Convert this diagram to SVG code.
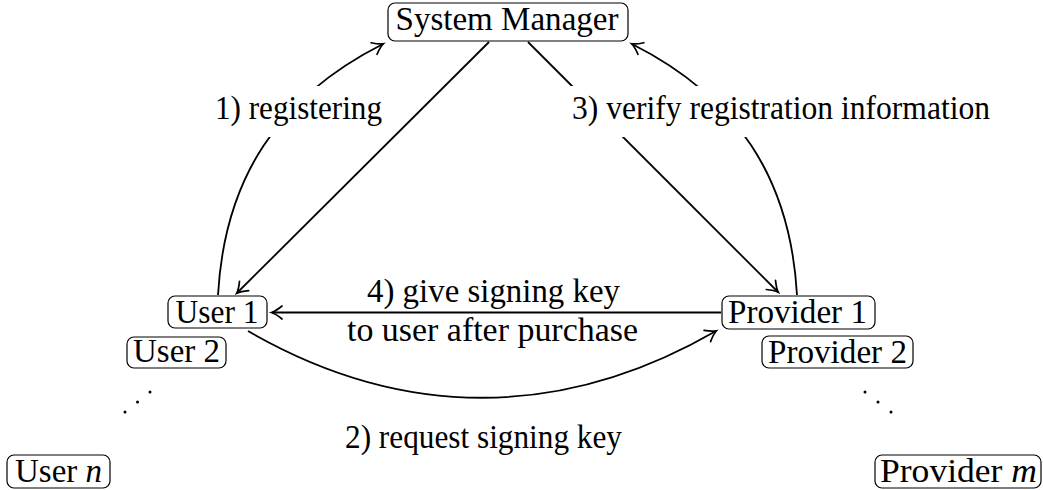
<svg xmlns="http://www.w3.org/2000/svg" width="1043" height="490" viewBox="0 0 1043 490">
  <style>
    .box { fill: #fff; stroke: #000; stroke-width: 1.2; }
    .lbl { font-size: 33px; fill: #000; }
    .mid { text-anchor: middle; }
    .edge { fill: none; stroke: #000; stroke-width: 1.8; }
    .arr { marker-end: url(#tip); }
    .bg { fill: #fff; stroke: none; }
    .dot { fill: #000; }
  </style>
  <defs>
    <marker id="tip" markerUnits="userSpaceOnUse" viewBox="-11 -8 13 16" markerWidth="13" markerHeight="16" refX="0" refY="0" orient="auto" overflow="visible">
      <path d="M-10,-6.5 Q-4,-1.5 0.5,0 Q-4,1.5 -10,6.5" fill="none" stroke="#000" stroke-width="1.7" stroke-linecap="round"/>
    </marker>
  </defs>

  <!-- connectors -->
  <g id="connectors">
    <!-- 1) registering: User 1 up to System Manager -->
    <path class="edge arr" d="M218,295 C224.6,178.4 277.8,97.1 383,44"/>
    <!-- 3) verification: Provider 1 up to System Manager -->
    <path class="edge arr" d="M797,295 C790.4,178.4 737.2,97.1 632,44"/>
    <!-- System Manager down to User 1 -->
    <path class="edge arr" d="M489,42 L237,293"/>
    <!-- System Manager down to Provider 1 -->
    <path class="edge arr" d="M528,42 L778,292"/>
    <!-- 4) Provider 1 to User 1 -->
    <path class="edge arr" d="M721,312.5 L272,312.5"/>
    <!-- 2) User 1 to Provider 1 -->
    <path class="edge arr" d="M248,331 C402,420 562,420 716,331"/>
  </g>

  <!-- edge labels -->
  <g id="label-1">
    <rect class="bg" x="209" y="86" width="179" height="51"/>
    <text class="lbl" font-family="Liberation Serif" x="215" y="119" textLength="167" lengthAdjust="spacingAndGlyphs">1) registering</text>
  </g>
  <g id="label-3">
    <rect class="bg" x="566" y="86" width="430" height="51"/>
    <text class="lbl" font-family="Liberation Serif" x="572" y="119" textLength="418" lengthAdjust="spacingAndGlyphs">3) verify registration information</text>
  </g>
  <g id="label-4">
    <text class="lbl" font-family="Liberation Serif" x="367" y="302" textLength="253" lengthAdjust="spacingAndGlyphs">4) give signing key</text>
    <text class="lbl" font-family="Liberation Serif" x="347" y="341" textLength="291" lengthAdjust="spacingAndGlyphs">to user after purchase</text>
  </g>
  <g id="label-2">
    <text class="lbl" font-family="Liberation Serif" x="345" y="448" textLength="277" lengthAdjust="spacingAndGlyphs">2) request signing key</text>
  </g>

  <!-- nodes -->
  <g id="system-manager">
    <rect class="box" x="388" y="3" width="240" height="38" rx="7"/>
    <text class="lbl mid" font-family="Liberation Serif" x="507" y="30" textLength="223" lengthAdjust="spacingAndGlyphs">System Manager</text>
  </g>
  <g id="user-1">
    <rect class="box" x="168" y="296" width="99" height="32" rx="7"/>
    <text class="lbl mid" font-family="Liberation Serif" x="217" y="323" textLength="83" lengthAdjust="spacingAndGlyphs">User 1</text>
  </g>
  <g id="user-2">
    <rect class="box" x="127" y="337" width="99" height="31" rx="7"/>
    <text class="lbl mid" font-family="Liberation Serif" x="176.5" y="362" textLength="87" lengthAdjust="spacingAndGlyphs">User 2</text>
  </g>
  <g id="user-n">
    <rect class="box" x="7" y="455" width="103" height="33" rx="7"/>
    <text class="lbl" font-family="Liberation Serif" x="15" y="482" textLength="87" lengthAdjust="spacingAndGlyphs">User <tspan font-style="italic">n</tspan></text>
  </g>
  <g id="provider-1">
    <rect class="box" x="722" y="296" width="153" height="33" rx="7"/>
    <text class="lbl mid" font-family="Liberation Serif" x="797.5" y="323" textLength="139" lengthAdjust="spacingAndGlyphs">Provider 1</text>
  </g>
  <g id="provider-2">
    <rect class="box" x="762" y="336" width="151" height="32" rx="7"/>
    <text class="lbl mid" font-family="Liberation Serif" x="837.5" y="363" textLength="139" lengthAdjust="spacingAndGlyphs">Provider 2</text>
  </g>
  <g id="provider-m">
    <rect class="box" x="875" y="455" width="166" height="33" rx="7"/>
    <text class="lbl" font-family="Liberation Serif" x="880" y="482" textLength="157" lengthAdjust="spacingAndGlyphs">Provider <tspan font-style="italic">m</tspan></text>
  </g>

  <!-- ellipsis dots -->
  <g id="user-dots">
    <circle class="dot" cx="125" cy="412" r="1.5"/>
    <circle class="dot" cx="137.5" cy="402" r="1.5"/>
    <circle class="dot" cx="150" cy="392" r="1.5"/>
  </g>
  <g id="provider-dots">
    <circle class="dot" cx="865" cy="392" r="1.5"/>
    <circle class="dot" cx="878" cy="402" r="1.5"/>
    <circle class="dot" cx="891" cy="412" r="1.5"/>
  </g>
</svg>
